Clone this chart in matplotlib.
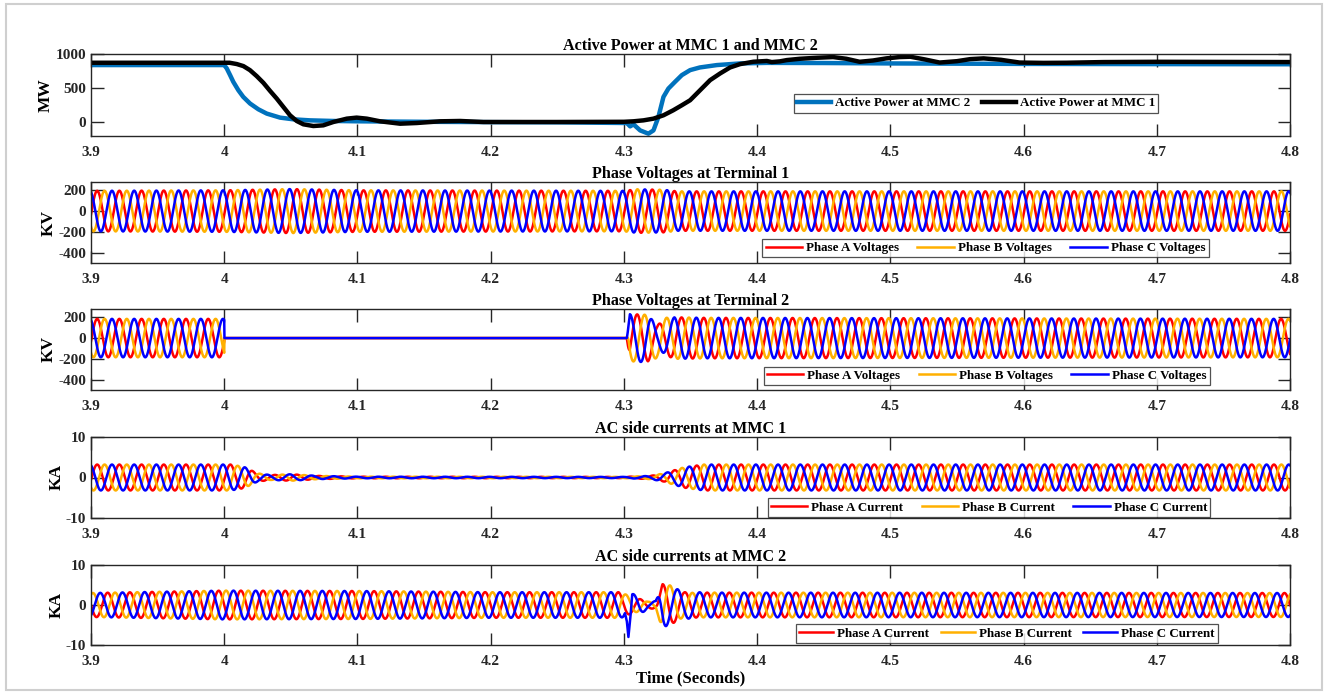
import numpy as np
import matplotlib.pyplot as plt
from matplotlib.patches import Rectangle

plt.rcParams['font.family'] = ['Liberation Serif', 'DejaVu Serif']
plt.rcParams['font.weight'] = 'bold'
plt.rcParams['axes.unicode_minus'] = False

# ---- data ----
# active power (MW)
p2_t = [3.9, 4.0, 4.0019, 4.0044, 4.0068, 4.0106, 4.0143, 4.0194, 4.0256, 4.0319, 4.0419,
        4.0519, 4.0644, 4.0819, 4.1, 4.15, 4.2, 4.25, 4.3022, 4.3047, 4.3072, 4.3122,
        4.3184, 4.3222, 4.3259, 4.3297, 4.3334, 4.3384, 4.3435, 4.3497, 4.357, 4.3698,
        4.3872, 4.4073, 4.45, 4.5, 4.6, 4.7, 4.8]
p2_v = [838, 838, 789, 691, 593, 470, 372, 275, 191, 128, 69,
        44, 29, 20, 15, 8, 3, 0, -10, -59, -29, -118,
        -166, -118, 78, 372, 494, 593, 691, 764, 803, 838,
        862, 870, 868, 862, 855, 852, 850]
p1_t = [3.9, 4.004, 4.0094, 4.0144, 4.0193, 4.0244, 4.0294, 4.0344, 4.0394, 4.0444, 4.0494,
        4.0544, 4.0594, 4.0669, 4.0744, 4.0819, 4.092, 4.0994, 4.107, 4.117, 4.132,
        4.1445, 4.162, 4.177, 4.1945, 4.25, 4.3, 4.3072, 4.3147, 4.3222, 4.3297, 4.337,
        4.3435, 4.3497, 4.3547, 4.3597, 4.3647, 4.3722, 4.3797, 4.3872, 4.3972, 4.4073,
        4.411, 4.417, 4.4223, 4.432, 4.445, 4.457, 4.467, 4.477, 4.487, 4.497, 4.507,
        4.515, 4.526, 4.537, 4.55, 4.56, 4.57, 4.583, 4.597, 4.615, 4.632, 4.66, 4.7,
        4.75, 4.8]
p1_v = [872, 872, 853, 823, 764, 676, 578, 460, 348, 225, 103,
        20, -29, -54, -44, 5, 54, 69, 54, 15, -20,
        -10, 15, 20, 5, 5, 8, 15, 29, 54, 103, 176,
        250, 323, 421, 519, 617, 715, 803, 852, 887, 898,
        882, 892, 911, 930, 945, 955, 930, 886, 905, 936, 955,
        960, 920, 875, 895, 925, 936, 915, 875, 870, 872, 882, 886,
        884, 882]

FREQ = 60.0
# phase angles (deg) referred to t = 3.9 s
PH_V1 = (-10.0, -130.0, 110.0)      # terminal 1 voltages, MMC 1 currents
PH_V2 = (-125.0, 115.0, 355.0)      # terminal 2 voltages after reclosing
PH_I2 = (180.0, 60.0, 300.0)        # MMC 2 currents

# amplitude envelopes (peak values)
vt1_t = [3.9, 4.0, 4.05, 4.1, 4.3, 4.31, 4.33, 4.34, 4.8]
vt1_a = [195, 200, 212, 200, 195, 210, 205, 190, 190]

vt2_t = [3.9, 4.0, 4.0001, 4.3022, 4.3045, 4.318, 4.325, 4.338, 4.36, 4.8]
vt2_a = [185, 185, 0, 0, 230, 225, 130, 200, 195, 185]
vt2_b = [185, 185, 0, 0, 225, 225, 190, 200, 195, 185]
vt2_c = [185, 185, 0, 0, 230, 230, 110, 200, 195, 185]

i1_t = [3.9, 4.005, 4.015, 4.025, 4.035, 4.05, 4.07, 4.1, 4.3, 4.32, 4.33, 4.345, 4.36, 4.8]
i1_a = [3.2, 3.2, 2.6, 1.0, 0.6, 0.8, 0.4, 0.2, 0.15, 0.4, 1.0, 2.5, 3.2, 3.2]

i2_t = [3.9, 4.0, 4.1, 4.2, 4.296, 4.312, 4.318, 4.324, 4.329, 4.334, 4.345, 4.36, 4.8]
i2_a = [3.0, 3.6, 3.5, 3.2, 3.2, 1.5, 0.8, 1.0, 5.2, 5.0, 3.2, 3.1, 3.0]
i2_b = [3.0, 3.6, 3.5, 3.2, 3.2, 1.5, 0.8, 1.0, 6.2, 5.0, 3.0, 3.1, 3.0]
i2_c = [3.0, 3.6, 3.5, 3.2, 3.2, 2.5, 0.8, 1.0, 6.2, 4.5, 3.5, 3.1, 3.0]
# blue current spike at reclosing (MMC 2)
spike_t = [4.3022, 4.3034, 4.3048]
spike_v = [-4.0, -8.0, -3.5]

t = np.linspace(3.9, 4.8, 20000)
w = 2 * np.pi * FREQ * (t - 3.9)


def wave(env_t, env_a, ph):
    return np.interp(t, env_t, env_a) * np.sin(w + np.radians(ph))


RED, ORANGE, BLUE = '#ff0000', '#ffb000', '#0000ff'
xticks = [3.9, 4.0, 4.1, 4.2, 4.3, 4.4, 4.5, 4.6, 4.7, 4.8]
xlabels = ['3.9', '4', '4.1', '4.2', '4.3', '4.4', '4.5', '4.6', '4.7', '4.8']

fig = plt.figure(figsize=(13.28, 6.95), dpi=100)
fig.patches.append(Rectangle((6 / 1328, 5 / 695), 1316 / 1328, 686 / 695,
                             transform=fig.transFigure, fill=False,
                             edgecolor='#cfcfcf', lw=1.5))

L, W = 91 / 1328, 1199 / 1328
tops = [54, 182, 309, 437, 565]
bots = [136, 263, 390, 518, 645]
axes = [fig.add_axes([L, 1 - b / 695, W, (b - tp) / 695]) for tp, b in zip(tops, bots)]


def style(ax, title, ylab, yticks, ylim):
    ax.set_xlim(3.9, 4.8)
    ax.set_ylim(*ylim)
    ax.set_xticks(xticks)
    ax.set_xticklabels(xlabels)
    ax.set_yticks(yticks)
    ax.set_title(title, fontsize=11.6, fontweight='bold', pad=3)
    ax.set_ylabel(ylab, fontsize=12.5, fontweight='bold', labelpad=1)
    ax.tick_params(direction='in', length=9, width=1, top=True, right=True,
                   labelsize=11, colors='#262626')
    ax.tick_params(axis='x', pad=7)
    ax.tick_params(axis='y', pad=3.5)
    for s in ax.spines.values():
        s.set_color('#262626')
        s.set_linewidth(1)


leg_kw = dict(fontsize=9.4, frameon=True, fancybox=False, edgecolor='#262626',
              ncol=3, handlelength=2.8, columnspacing=1.4, handletextpad=0.3,
              borderpad=0.25, loc='center', borderaxespad=0)

# 1: active power
ax = axes[0]
ax.plot(p2_t, p2_v, color='#0072bd', lw=3.2, label='Active Power at MMC 2')
ax.plot(p1_t, p1_v, color='black', lw=3.2, label='Active Power at MMC 1')
style(ax, 'Active Power at MMC 1 and MMC 2', 'MW', [0, 500, 1000], (-200, 1000))
ax.legend(bbox_to_anchor=(0.738, 0.40),
          **dict(leg_kw, ncol=2, handlelength=2.6, columnspacing=0.9)).get_frame().set_linewidth(0.9)

# 2: terminal 1 voltages
ax = axes[1]
ax.plot(t, wave(vt1_t, vt1_a, PH_V1[0]), color=RED, lw=1.8, label='Phase A Voltages')
ax.plot(t, wave(vt1_t, vt1_a, PH_V1[1]), color=ORANGE, lw=1.8, label='Phase B Voltages')
ax.plot(t, wave(vt1_t, vt1_a, PH_V1[2]), color=BLUE, lw=1.8, label='Phase C Voltages')
style(ax, 'Phase Voltages at Terminal 1', 'KV', [-400, -200, 0, 200], (-500, 280))
ax.legend(bbox_to_anchor=(0.746, 0.185), **leg_kw).get_frame().set_linewidth(0.9)

# 3: terminal 2 voltages (phase changes after reclosing)
ax = axes[2]
for env, p1, p2, col, lab in [(vt2_a, PH_V1[0], PH_V2[0], RED, 'Phase A Voltages'),
                              (vt2_b, PH_V1[1], PH_V2[1], ORANGE, 'Phase B Voltages'),
                              (vt2_c, PH_V1[2], PH_V2[2], BLUE, 'Phase C Voltages')]:
    v = np.where(t < 4.1, wave(vt2_t, env, p1), wave(vt2_t, env, p2))
    ax.plot(t, v, color=col, lw=1.8, label=lab)
style(ax, 'Phase Voltages at Terminal 2', 'KV', [-400, -200, 0, 200], (-500, 280))
ax.legend(bbox_to_anchor=(0.747, 0.173), **leg_kw).get_frame().set_linewidth(0.9)

# 4: MMC 1 currents
ax = axes[3]
ax.plot(t, wave(i1_t, i1_a, PH_V1[0]), color=RED, lw=1.8, label='Phase A Current')
ax.plot(t, wave(i1_t, i1_a, PH_V1[1]), color=ORANGE, lw=1.8, label='Phase B Current')
ax.plot(t, wave(i1_t, i1_a, PH_V1[2]), color=BLUE, lw=1.8, label='Phase C Current')
style(ax, 'AC side currents at MMC 1', 'KA', [-10, 0, 10], (-10, 10))
ax.legend(bbox_to_anchor=(0.749, 0.13), **leg_kw).get_frame().set_linewidth(0.9)

# 5: MMC 2 currents
ax = axes[4]
ic = wave(i2_t, i2_c, PH_I2[2])
t0, t1 = 4.3008, 4.3062
inside = (t > t0) & (t < t1)
ic0, ic1 = np.interp([t0, t1], t, ic)
ic[inside] = np.interp(t[inside], [t0] + spike_t + [t1], [ic0] + spike_v + [ic1])
ax.plot(t, wave(i2_t, i2_a, PH_I2[0]), color=RED, lw=1.8, label='Phase A Current')
ax.plot(t, wave(i2_t, i2_b, PH_I2[1]), color=ORANGE, lw=1.8, label='Phase B Current')
ax.plot(t, ic, color=BLUE, lw=1.8, label='Phase C Current')
style(ax, 'AC side currents at MMC 2', 'KA', [-10, 0, 10], (-10, 10))
ax.legend(bbox_to_anchor=(0.764, 0.144),
          **dict(leg_kw, columnspacing=0.9, handlelength=2.6)).get_frame().set_linewidth(0.9)

ax.set_xlabel('Time (Seconds)', fontsize=12, fontweight='bold', labelpad=2)

fig.savefig('out.png', dpi=100)
